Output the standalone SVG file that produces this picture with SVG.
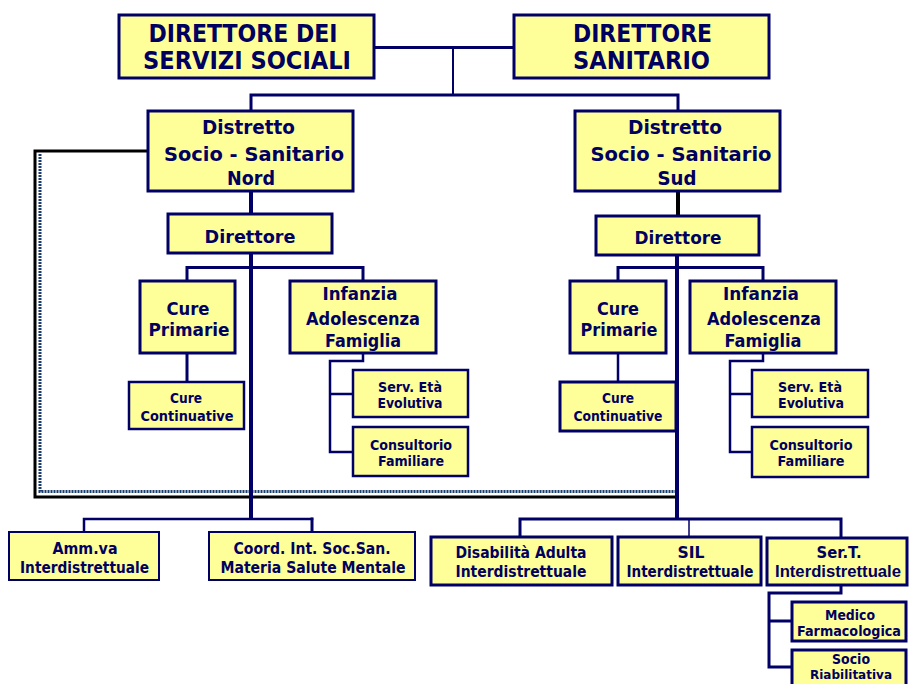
<svg xmlns="http://www.w3.org/2000/svg" width="910" height="684" viewBox="0 0 910 684">
<defs>
<style>
.b{fill:#FFFF99;stroke:#000066;stroke-width:3}
.s{fill:#FFFF99;stroke:#000066;stroke-width:2.5}
.t{font-family:"DejaVu Sans",Verdana,sans-serif;font-weight:bold;fill:#000060;text-anchor:middle}
.l{fill:none;stroke:#000066;stroke-linejoin:miter;stroke-linecap:square}
.f24{font-size:24px}.f20{font-size:20px}.f18{font-size:18px}.f17{font-size:17.5px}.f16{font-size:16px}.f13{font-size:13.5px}
</style>
</defs>
<rect width="910" height="684" fill="#ffffff"/>
<g id="connectors">
<path class="l" stroke-width="3" d="M374 47.5H514"/>
<path class="l" stroke-width="2" d="M453 47.5V95"/>
<path class="l" stroke-width="3" d="M251 110V95H678V110"/>
<path class="l" stroke-width="4" d="M251 191V214"/>
<path fill="none" stroke="#000000" stroke-width="4" d="M678 191V216"/>
<path fill="none" stroke="#000000" stroke-width="3" d="M148 151H35V497H677"/>
<path fill="none" stroke="#1a3d70" stroke-width="3" stroke-dasharray="2 1" d="M40 154V491.5H675"/>
<path class="l" stroke-width="4" d="M251 253V518"/>
<path class="l" stroke-width="3" d="M187 281V267.5H363V281"/>
<path class="l" stroke-width="3" d="M187 353V382"/>
<path class="l" stroke-width="2.5" d="M363 353V361H330V452H353M330 394H353"/>
<path class="l" stroke-width="2.5" d="M84 532V519H312"/>
<path class="l" stroke-width="3" d="M312 519V532"/>
<path class="l" stroke-width="4" d="M677 255V518"/>
<path class="l" stroke-width="3" d="M618 281V267.5H763V281"/>
<path class="l" stroke-width="2.5" d="M618 353V382"/>
<path class="l" stroke-width="2.5" d="M763 353V361H730V452H752M730 394H752"/>
<path class="l" stroke-width="3" d="M520 537V519H841V537"/>
<path class="l" stroke-width="1.5" d="M689 519V537"/>
<path class="l" stroke-width="3" d="M841 585V593H769V667H792M769 621H792"/>
</g>
<g id="dir-servizi-sociali">
<rect class="b" x="119" y="15" width="255" height="63"/>
<text class="t f24" x="243" y="42" textLength="189" lengthAdjust="spacingAndGlyphs">DIRETTORE DEI</text>
<text class="t f24" x="247" y="69" textLength="208" lengthAdjust="spacingAndGlyphs">SERVIZI SOCIALI</text>
</g>
<g id="dir-sanitario">
<rect class="b" x="514" y="15" width="255" height="63"/>
<text class="t f24" x="573" y="42" style="text-anchor:start" textLength="139" lengthAdjust="spacingAndGlyphs">DIRETTORE</text>
<text class="t f24" x="573" y="69" style="text-anchor:start" textLength="137" lengthAdjust="spacingAndGlyphs">SANITARIO</text>
</g>
<g id="distretto-nord">
<rect class="b" x="148" y="111" width="205" height="80"/>
<text class="t f20" x="248.5" y="134" textLength="93" lengthAdjust="spacingAndGlyphs">Distretto</text>
<text class="t f20" x="254" y="161" textLength="180" lengthAdjust="spacingAndGlyphs">Socio - Sanitario</text>
<text class="t f20" x="251" y="185" textLength="48" lengthAdjust="spacingAndGlyphs">Nord</text>
</g>
<g id="distretto-sud">
<rect class="b" x="575" y="111" width="205" height="80"/>
<text class="t f20" x="675" y="134" textLength="94" lengthAdjust="spacingAndGlyphs">Distretto</text>
<text class="t f20" x="681" y="161" textLength="181" lengthAdjust="spacingAndGlyphs">Socio - Sanitario</text>
<text class="t f20" x="677" y="185" textLength="39" lengthAdjust="spacingAndGlyphs">Sud</text>
</g>
<g id="direttore-nord">
<rect class="b" x="168" y="214" width="164" height="39"/>
<text class="t f18" x="250" y="243" textLength="91" lengthAdjust="spacingAndGlyphs">Direttore</text>
</g>
<g id="direttore-sud">
<rect class="b" x="596" y="216" width="163" height="39"/>
<text class="t f18" x="678" y="244" textLength="87" lengthAdjust="spacingAndGlyphs">Direttore</text>
</g>
<g id="cure-primarie-nord">
<rect class="b" x="140" y="281" width="95" height="72"/>
<text class="t f18" x="188" y="315" textLength="43" lengthAdjust="spacingAndGlyphs">Cure</text>
<text class="t f18" x="189" y="336" textLength="81" lengthAdjust="spacingAndGlyphs">Primarie</text>
</g>
<g id="infanzia-nord">
<rect class="b" x="290" y="281" width="146" height="72"/>
<text class="t f17" x="360" y="300" textLength="75" lengthAdjust="spacingAndGlyphs">Infanzia</text>
<text class="t f17" x="363" y="325" textLength="114" lengthAdjust="spacingAndGlyphs">Adolescenza</text>
<text class="t f17" x="363" y="347" textLength="76" lengthAdjust="spacingAndGlyphs">Famiglia</text>
</g>
<g id="cure-continuative-nord">
<rect class="s" x="129" y="382" width="115" height="47"/>
<text class="t f13" x="186" y="403" textLength="32" lengthAdjust="spacingAndGlyphs">Cure</text>
<text class="t f13" x="187" y="421" textLength="93" lengthAdjust="spacingAndGlyphs">Continuative</text>
</g>
<g id="serv-eta-nord">
<rect class="s" x="353" y="370" width="115" height="47"/>
<text class="t f13" x="410" y="392" textLength="64" lengthAdjust="spacingAndGlyphs">Serv. Età</text>
<text class="t f13" x="410" y="408" textLength="65" lengthAdjust="spacingAndGlyphs">Evolutiva</text>
</g>
<g id="consultorio-nord">
<rect class="s" x="353" y="427" width="115" height="49"/>
<text class="t f13" x="411" y="450" textLength="82" lengthAdjust="spacingAndGlyphs">Consultorio</text>
<text class="t f13" x="411" y="466" textLength="66" lengthAdjust="spacingAndGlyphs">Familiare</text>
</g>
<g id="cure-primarie-sud">
<rect class="b" x="570" y="281" width="96" height="72"/>
<text class="t f18" x="618" y="315" textLength="42" lengthAdjust="spacingAndGlyphs">Cure</text>
<text class="t f18" x="619" y="336" textLength="77" lengthAdjust="spacingAndGlyphs">Primarie</text>
</g>
<g id="infanzia-sud">
<rect class="b" x="690" y="281" width="146" height="72"/>
<text class="t f17" x="761" y="300" textLength="76" lengthAdjust="spacingAndGlyphs">Infanzia</text>
<text class="t f17" x="764" y="325" textLength="114" lengthAdjust="spacingAndGlyphs">Adolescenza</text>
<text class="t f17" x="763" y="347" textLength="77" lengthAdjust="spacingAndGlyphs">Famiglia</text>
</g>
<g id="cure-continuative-sud">
<rect class="b" x="560" y="382" width="116" height="49"/>
<text class="t f13" x="618" y="403" textLength="32" lengthAdjust="spacingAndGlyphs">Cure</text>
<text class="t f13" x="618" y="421" textLength="89" lengthAdjust="spacingAndGlyphs">Continuative</text>
</g>
<g id="serv-eta-sud">
<rect class="s" x="752" y="370" width="116" height="47"/>
<text class="t f13" x="810" y="392" textLength="64" lengthAdjust="spacingAndGlyphs">Serv. Età</text>
<text class="t f13" x="811" y="408" textLength="66" lengthAdjust="spacingAndGlyphs">Evolutiva</text>
</g>
<g id="consultorio-sud">
<rect class="s" x="752" y="427" width="116" height="50"/>
<text class="t f13" x="811" y="450" textLength="83" lengthAdjust="spacingAndGlyphs">Consultorio</text>
<text class="t f13" x="811" y="466" textLength="67" lengthAdjust="spacingAndGlyphs">Familiare</text>
</g>
<g id="amm-va">
<rect class="s" x="9" y="532" width="150" height="48" style="stroke-width:2"/>
<text class="t f16" x="85" y="554" textLength="65" lengthAdjust="spacingAndGlyphs">Amm.va</text>
<text class="t f16" x="84.5" y="573" textLength="129" lengthAdjust="spacingAndGlyphs">Interdistrettuale</text>
</g>
<g id="coord-salute-mentale">
<rect class="s" x="209" y="532" width="206" height="48" style="stroke-width:2"/>
<text class="t f16" x="312" y="554" textLength="157" lengthAdjust="spacingAndGlyphs">Coord. Int. Soc.San.</text>
<text class="t f16" x="313" y="573" textLength="185" lengthAdjust="spacingAndGlyphs">Materia Salute Mentale</text>
</g>
<g id="disabilita-adulta">
<rect class="b" x="431" y="537" width="181" height="48"/>
<text class="t f16" x="521" y="558" textLength="131" lengthAdjust="spacingAndGlyphs">Disabilità Adulta</text>
<text class="t f16" x="521" y="577" textLength="131" lengthAdjust="spacingAndGlyphs">Interdistrettuale</text>
</g>
<g id="sil">
<rect class="b" x="618" y="537" width="143" height="48"/>
<text class="t f16" x="691" y="558" textLength="27" lengthAdjust="spacingAndGlyphs">SIL</text>
<text class="t f16" x="690" y="577" textLength="127" lengthAdjust="spacingAndGlyphs">Interdistrettuale</text>
</g>
<g id="sert">
<rect class="b" x="767" y="538" width="140" height="47"/>
<text class="t f16" x="839" y="558" textLength="45" lengthAdjust="spacingAndGlyphs">Ser.T.</text>
<text class="t" x="838" y="577" style="font-family:'Liberation Sans',Arial,sans-serif;font-size:17px" textLength="126" lengthAdjust="spacingAndGlyphs">Interdistrettuale</text>
</g>
<g id="medico-farmacologica">
<rect class="b" x="792" y="602" width="114" height="39"/>
<text class="t f13" x="850" y="620" textLength="50" lengthAdjust="spacingAndGlyphs">Medico</text>
<text class="t f13" x="849" y="636" textLength="104" lengthAdjust="spacingAndGlyphs">Farmacologica</text>
</g>
<g id="socio-riabilitativa">
<rect class="b" x="792" y="650" width="114" height="40"/>
<text class="t f13" x="851" y="664" textLength="38" lengthAdjust="spacingAndGlyphs">Socio</text>
<text class="t" x="851" y="679" style="font-size:12.5px" textLength="82" lengthAdjust="spacingAndGlyphs">Riabilitativa</text>
</g>
</svg>
